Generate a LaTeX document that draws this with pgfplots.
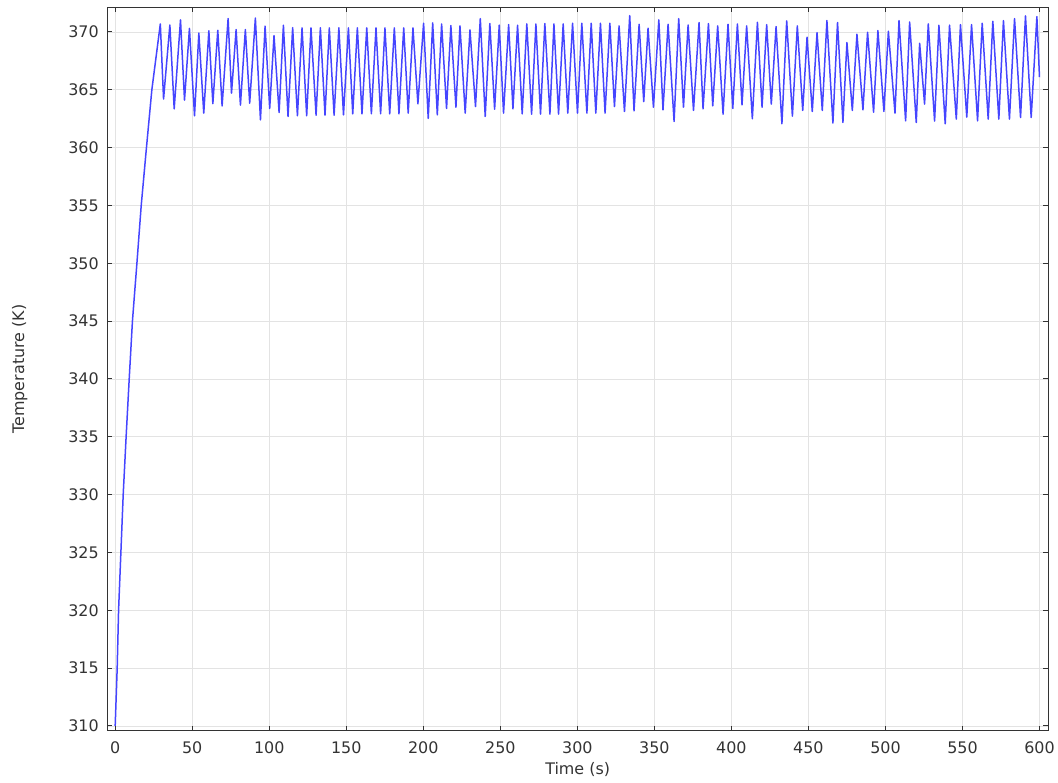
\documentclass[border=0pt]{standalone}
\usepackage{pgfplots}
\pgfplotsset{compat=1.18}
\usepackage{fontspec}
\setmainfont{DejaVu Sans}
\usetikzlibrary{calc}
\definecolor{curve}{rgb}{0.27,0.27,1}
\definecolor{frame}{gray}{0.2}

\begin{document}
\begin{tikzpicture}
\begin{axis}[
    name=ax,
    scale only axis,
    width=942bp, height=724.4bp,
    xmin=-5.2, xmax=605.6,
    ymin=309.57, ymax=372.13,
    xtick={0,50,...,600},
    ytick={310,315,...,370},
    tick align=inside,
    major tick length=5bp,
    grid=major,
    major grid style={color=black!11, line width=0.8bp},
    axis line style={frame, line width=1bp},
    tick style={frame, line width=0.9bp},
    font=\fontsize{16}{19}\selectfont,
    /pgf/number format/assume math mode=true,
    ticklabel style={text=frame},
    xticklabel style={yshift=-7bp},
    yticklabel style={xshift=-5bp},
    xlabel={Time (s)},
    ylabel={Temperature (K)},
    every axis x label/.style={at={(axis description cs:0.5,-0.0529)}, anchor=center, text=frame},
    every axis y label/.style={at={(axis description cs:-0.093,0.5)}, rotate=90, anchor=center, text=frame},
]
% temperature trace: peaks and troughs
\addplot[curve, line width=1.5bp, line join=round, no markers] coordinates {
(0,310)(1.3,315)(2.2,320)(3.7,325)(5.2,330)(7.1,335)(9.1,340)(11.2,345)
(14.1,350)(16.9,355)(20.3,360)(23.8,365)
(29.3,370.69)(31.4,364.2)(35.5,370.6)(38.3,363.35)(42.4,371.04)(45.0,364.1)
(48.2,370.3)(51.5,362.75)(54.3,369.9)(57.5,362.98)(60.8,370.1)(63.4,363.8)
(66.6,370.14)(69.4,363.6)(73.3,371.15)(75.5,364.7)(78.5,370.2)(81.3,363.67)
(84.5,370.2)(87.3,363.84)(91.0,371.2)(94.3,362.4)(97.3,370.5)(100.3,363.38)
(103.1,369.68)(106.4,363.03)(109.2,370.58)(112.2,362.69)(115.2,370.37)(118.3,362.75)
(121.3,370.35)(124.3,362.75)(127.1,370.35)(130.4,362.8)(133.2,370.35)(136.2,362.8)
(139.0,370.35)(142.1,362.8)(145.2,370.35)(148.2,362.83)(151.4,370.35)(154.2,362.92)
(157.2,370.35)(160.2,362.92)(163.3,370.35)(166.3,362.92)(169.3,370.35)(172.3,362.92)
(175.1,370.35)(178.2,362.92)(181.2,370.35)(184.2,362.92)(187.3,370.35)(190.2,362.98)
(193.3,370.35)(196.5,363.78)(200.2,370.75)(203.2,362.52)(206.1,370.78)(209.1,362.83)
(211.9,370.69)(215.1,363.38)(217.9,370.55)(221.2,363.49)(223.8,370.52)(227.2,362.98)
(230.3,370.17)(233.9,363.55)(237.0,371.15)(240.2,362.69)(243.2,370.72)(246.3,363.32)
(249.3,370.58)(252.1,362.98)(255.4,370.63)(258.2,363.35)(261.2,370.58)(264.2,362.92)
(267.2,370.69)(270.3,362.89)(273.1,370.69)(276.1,362.89)(278.9,370.72)(282.2,362.89)
(284.8,370.69)(287.8,362.89)(290.8,370.69)(293.8,362.98)(296.9,370.75)(300.1,362.98)
(302.9,370.75)(306.2,362.98)(309.0,370.75)(312.0,362.98)(315.0,370.75)(318.0,362.98)
(321.1,370.75)(324.1,363.55)(327.1,370.52)(330.6,363.12)(334.0,371.41)(336.8,363.18)
(340.1,370.66)(343.1,363.98)(345.9,370.32)(349.4,363.49)(352.9,371.04)(355.6,363.26)
(358.9,370.66)(362.8,362.26)(365.8,371.15)(368.9,363.49)(371.9,370.6)(375.4,363.21)
(379.0,370.81)(381.6,363.35)(385.1,370.72)(387.9,363.61)(391.1,370.52)(394.6,362.89)
(397.8,370.66)(400.9,363.38)(403.9,370.69)(406.9,363.7)(409.9,370.52)(413.6,362.49)
(416.9,370.83)(419.9,363.49)(422.9,370.63)(425.9,363.76)(429.0,370.46)(432.8,362.06)
(435.9,370.95)(439.6,362.72)(442.8,370.52)(446.3,363.21)(449.1,369.54)(452.5,363.12)
(455.6,369.94)(459.0,363.21)(462.0,370.98)(465.9,362.12)(468.9,370.81)(472.4,362.17)
(475.0,369.08)(478.5,363.21)(481.5,369.8)(485.4,363.26)(488.4,369.97)(492.3,363.06)
(495.1,370.12)(499.0,363.12)(501.9,370.06)(506.2,362.98)(508.8,370.98)(513.1,362.31)
(515.7,370.86)(520.0,362.17)(522.2,369.02)(525.4,363.76)(527.8,370.69)(531.9,362.29)
(534.7,370.58)(538.8,362.06)(541.6,370.58)(546.0,362.46)(548.7,370.63)(552.8,362.63)
(555.9,370.63)(559.8,362.31)(562.8,370.75)(566.7,362.46)(569.7,370.92)(573.6,362.46)
(576.6,370.98)(580.5,362.46)(583.8,371.15)(587.7,362.6)(590.9,371.38)(594.6,362.6)
(598.3,371.32)(600,366.09)
};
\end{axis}
\path ($(ax.south west)+(-107.3bp,-51.3bp)$) rectangle ($(ax.north east)+(8.7bp,7.3bp)$);
\end{tikzpicture}
\end{document}
